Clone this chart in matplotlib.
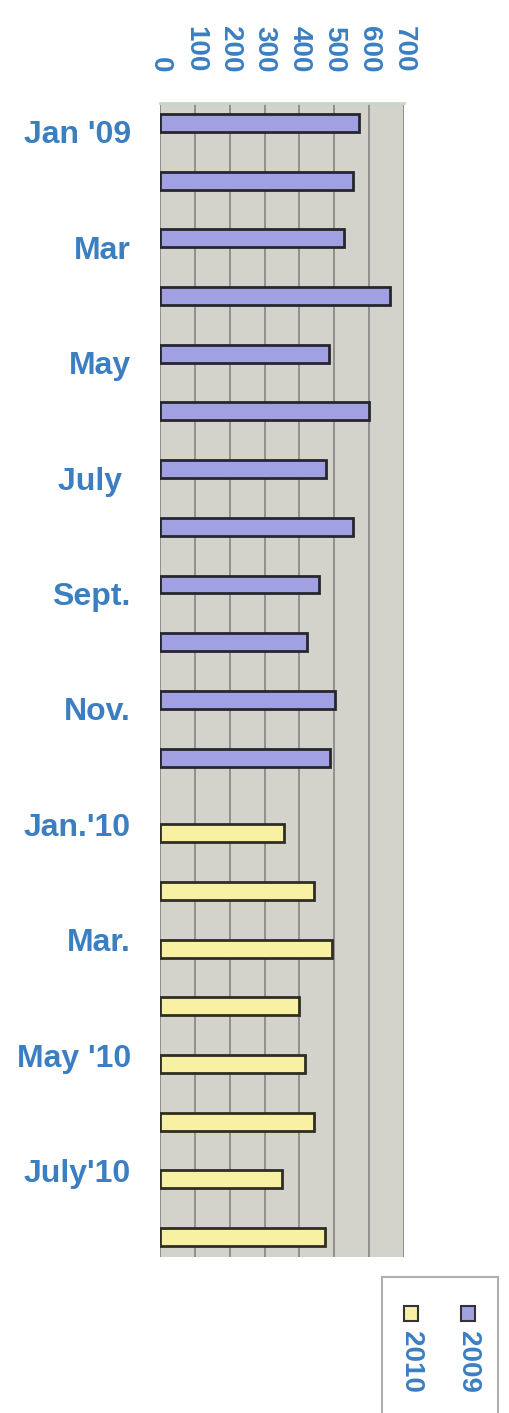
import numpy as np
import matplotlib.pyplot as plt
from matplotlib.patches import Rectangle

months = ["Jan '09", "Feb", "Mar", "Apr", "May", "June", "July ", "Aug", "Sept.", "Oct",
          "Nov.", "Dec", "Jan.'10", "Feb", "Mar.", "Apr", "May '10", "June", "July'10", "Aug"]
nan = np.nan
v2009 = [570, 554, 528, 659, 484, 600, 475, 554, 455, 423, 501, 487,
         nan, nan, nan, nan, nan, nan, nan, nan]
v2010 = [nan, nan, nan, nan, nan, nan, nan, nan, nan, nan, nan, nan,
         356, 443, 493, 399, 417, 443, 350, 472]
series = ["2009", "2010"]
xticks = [0, 100, 200, 300, 400, 500, 600, 700]

blue = '#3b7fc2'
c2009 = '#a0a0e2'
c2010 = '#f8f1a4'
plt.rcParams['font.family'] = ['Liberation Sans', 'DejaVu Sans']
plt.rcParams['font.weight'] = 'bold'

W, H = 510, 1413
fig = plt.figure(figsize=(W/100, H/100), dpi=100)
ax = fig.add_axes([160/W, 1-1257/H, 244/W, (1257-103)/H])
ax.set_facecolor('#d3d3cb')

y = np.arange(len(months))
w = 0.31
ax.barh(y - w/2, v2009, height=w, color=c2009, edgecolor='#26262e', linewidth=2, zorder=3)
ax.barh(y + w/2, v2010, height=w, color=c2010, edgecolor='#2e2e22', linewidth=2, zorder=3)

ax.set_xlim(0, 700)
ax.set_ylim(len(months) - 0.5, -0.5)
ax.xaxis.tick_top()
ax.set_xticks(xticks)
ax.set_xticklabels([str(t) for t in xticks], rotation=-90, color=blue, fontsize=20,
                   fontweight='bold', va='bottom', ha='center')
ax.set_yticks(y[::2])
ax.set_yticklabels(months[::2], color=blue, fontsize=23, fontweight='bold')
ax.tick_params(axis='x', length=0, pad=22)
ax.tick_params(axis='y', length=0, pad=21)
ax.grid(axis='x', color='#8a8a8a', linewidth=1.3, zorder=1)
for s in ['right', 'bottom', 'left']:
    ax.spines[s].set_visible(False)
ax.spines['top'].set_color('#c4d8cc')
ax.spines['top'].set_linewidth(2)

# legend drawn rotated, like the reference
def fx(px):
    return px / W
def fy(py):
    return 1 - py / H

fig.add_artist(Rectangle((fx(382), fy(1420)), fx(498) - fx(382), fy(1277) - fy(1420),
                         transform=fig.transFigure, facecolor='white', edgecolor='#b0b0b0', lw=1.5))
for name, col, xc in [(series[0], c2009, 468), (series[1], c2010, 411)]:
    fig.add_artist(Rectangle((fx(xc - 7), fy(1321)), 14/W, 15/H, transform=fig.transFigure,
                             facecolor=col, edgecolor='#333333', lw=1.5))
    fig.text(fx(xc), fy(1331), name, rotation=-90, ha='center', va='top',
             color=blue, fontsize=20, fontweight='bold')

fig.savefig('out.png', dpi=100)
